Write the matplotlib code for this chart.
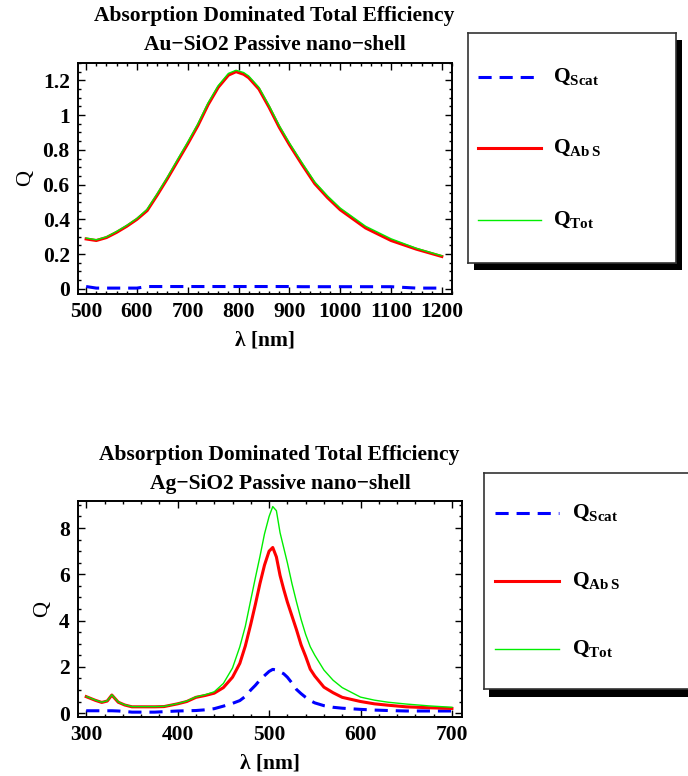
import matplotlib.pyplot as plt
from matplotlib.patches import Rectangle
from matplotlib.ticker import MultipleLocator

plt.rcParams['font.family'] = ['Liberation Serif', 'DejaVu Serif']
plt.rcParams['font.weight'] = 'bold'
plt.rcParams['mathtext.fontset'] = 'custom'
plt.rcParams['mathtext.rm'] = 'Liberation Serif:bold'
plt.rcParams['mathtext.it'] = 'Liberation Serif:bold'

# Au-SiO2 shell
lam_au = [500, 520, 540, 560, 580, 600, 620, 640, 660, 680, 700, 720, 740, 760, 780,
          795, 810, 820, 840, 860, 880, 900, 925, 950, 975, 1000, 1050, 1100, 1150, 1200]
scat_au = [0.013, 0.004, 0.004, 0.004, 0.004, 0.004, 0.013, 0.013, 0.013, 0.013, 0.013,
           0.013, 0.013, 0.013, 0.013, 0.013, 0.013, 0.013, 0.013, 0.013, 0.013, 0.013,
           0.012, 0.012, 0.012, 0.012, 0.012, 0.012, 0.004, 0.004]
abs_au = [0.287, 0.278, 0.295, 0.325, 0.36, 0.40, 0.45, 0.54, 0.635, 0.735, 0.835, 0.94,
          1.06, 1.16, 1.23, 1.25, 1.235, 1.215, 1.15, 1.045, 0.93, 0.83, 0.715, 0.605,
          0.525, 0.455, 0.35, 0.278, 0.228, 0.186]
tot_au = [0.292, 0.282, 0.299, 0.33, 0.365, 0.405, 0.458, 0.548, 0.643, 0.745, 0.845, 0.95,
          1.07, 1.17, 1.24, 1.258, 1.245, 1.225, 1.16, 1.055, 0.94, 0.84, 0.725, 0.615,
          0.535, 0.465, 0.36, 0.288, 0.233, 0.19]

# Ag-SiO2 shell
lam_ag = [300, 310, 317, 323, 328, 335, 342, 350, 375, 385, 400, 410, 420, 430, 440, 450,
          460, 468, 474, 480, 485, 490, 495, 500, 504, 508, 512, 516, 520, 525, 530, 535,
          540, 545, 550, 560, 570, 580, 600, 615, 630, 650, 675, 700]
scat_ag = [0.10, 0.10, 0.10, 0.10, 0.10, 0.09, 0.07, 0.04, 0.04, 0.06, 0.09, 0.10, 0.11,
           0.14, 0.19, 0.30, 0.42, 0.54, 0.72, 1.00, 1.20, 1.43, 1.62, 1.80, 1.89, 1.86,
           1.78, 1.70, 1.55, 1.30, 1.02, 0.84, 0.68, 0.54, 0.44, 0.32, 0.25, 0.21, 0.16,
           0.13, 0.11, 0.09, 0.09, 0.09]
abs_ag = [0.71, 0.55, 0.46, 0.52, 0.78, 0.47, 0.35, 0.27, 0.27, 0.28, 0.40, 0.50, 0.68,
          0.76, 0.86, 1.10, 1.55, 2.15, 2.90, 3.85, 4.70, 5.60, 6.40, 7.00, 7.16, 6.75,
          5.95, 5.35, 4.80, 4.20, 3.60, 2.95, 2.45, 1.90, 1.60, 1.12, 0.88, 0.68, 0.50,
          0.40, 0.34, 0.27, 0.23, 0.20]
tot_ag = [0.72, 0.56, 0.47, 0.53, 0.79, 0.48, 0.36, 0.28, 0.28, 0.29, 0.41, 0.52, 0.70,
          0.79, 0.92, 1.28, 1.95, 2.87, 3.75, 4.90, 5.85, 6.77, 7.75, 8.50, 8.93, 8.75,
          7.80, 7.15, 6.50, 5.60, 4.80, 4.05, 3.40, 2.87, 2.50, 1.86, 1.42, 1.10, 0.69,
          0.56, 0.47, 0.39, 0.31, 0.25]

labels = [r'$\mathrm{Q}_{\mathrm{Scat}}$', r'$\mathrm{Q}_{\mathrm{Ab\,S}}$', r'$\mathrm{Q}_{\mathrm{Tot}}$']
colors = ['#0000ff', '#ff0000', '#00ee00']

W, H = 688, 776
fig = plt.figure(figsize=(W / 100, H / 100), dpi=100)


def px_axes(x0, y0, x1, y1):
    # pixel box (top-left origin) -> figure fraction
    return [x0 / W, 1 - y1 / H, (x1 - x0) / W, (y1 - y0) / H]


def draw_panel(box, lam, scat, absq, tot, xlim, ylim, xmaj, xmin, ymaj, ymin):
    ax = fig.add_axes(px_axes(*box))
    ax.plot(lam, scat, color=colors[0], lw=2.2, dashes=(4.3, 2.6))
    ax.plot(lam, absq, color=colors[1], lw=2.2)
    ax.plot(lam, tot, color=colors[2], lw=1.0)
    ax.set_xlim(*xlim)
    ax.set_ylim(*ylim)
    ax.xaxis.set_major_locator(MultipleLocator(xmaj))
    ax.xaxis.set_minor_locator(MultipleLocator(xmin))
    ax.yaxis.set_major_locator(MultipleLocator(ymaj))
    ax.yaxis.set_minor_locator(MultipleLocator(ymin))
    ax.yaxis.set_major_formatter(plt.FuncFormatter(lambda v, p: ('%g' % round(v, 2))))
    ax.tick_params(which='both', direction='in', top=True, right=True, labelsize=15.5, width=1)
    ax.tick_params(which='major', length=5, pad=6)
    ax.tick_params(which='minor', length=2.5)
    for s in ax.spines.values():
        s.set_linewidth(1.4)
    ax.set_xlabel('λ [nm]', fontsize=15.5, fontweight='bold', labelpad=6)
    ax.set_ylabel('Q', fontsize=16, fontweight='normal', labelpad=5)
    return ax


def draw_titles(x, y, line2):
    fig.text(x / W, 1 - y / H, 'Absorption Dominated Total Efficiency',
             ha='center', va='center', fontsize=15.5, fontweight='bold')
    fig.text((x + 1) / W, 1 - (y + 29) / H, line2,
             ha='center', va='center', fontsize=15.5, fontweight='bold')


def draw_key(box, shadow, xl, xt, ys):
    x0, y0, x1, y1 = box
    fig.add_artist(Rectangle(((x0 + shadow[0]) / W, 1 - (y1 + shadow[1]) / H),
                             (x1 - x0) / W, (y1 - y0) / H, transform=fig.transFigure,
                             facecolor='black', edgecolor='none', zorder=1))
    k = fig.add_axes(px_axes(*box))
    k.set_zorder(2)
    k.set_xlim(x0, x1)
    k.set_ylim(y1, y0)
    k.set_xticks([])
    k.set_yticks([])
    for s in k.spines.values():
        s.set_linewidth(1.2)
        s.set_edgecolor('#333333')
    k.plot(xl, [ys[0]] * 2, color=colors[0], lw=2.2, dashes=(4.3, 2.6))
    k.plot(xl, [ys[1]] * 2, color=colors[1], lw=2.2)
    k.plot(xl, [ys[2]] * 2, color=colors[2], lw=1.0)
    for y, lab in zip(ys, labels):
        k.text(xt, y, lab, fontsize=15.5, va='center', ha='left')


draw_panel((78, 63, 452, 294), lam_au, scat_au, abs_au, tot_au,
           (484, 1220), (-0.03, 1.30), 100, 20, 0.2, 0.05)
draw_titles(274, 16, 'Au\u2212SiO2 Passive nano\u2212shell')

draw_panel((78, 501, 462, 717), lam_ag, scat_ag, abs_ag, tot_ag,
           (291, 711), (-0.17, 9.17), 100, 20, 2, 0.5)
draw_titles(279, 455, 'Ag\u2212SiO2 Passive nano\u2212shell')

draw_key((468, 33, 676, 263), (6, 7), [478, 541], 553, [77, 148, 220])
draw_key((484, 473, 710, 689), (5, 8), [495, 559], 572, [513, 581, 649])

fig.savefig('out.png', dpi=100)
